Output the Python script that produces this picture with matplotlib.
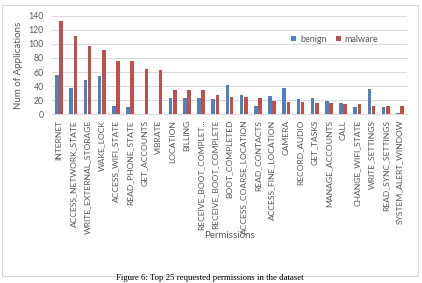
import matplotlib
matplotlib.use("Agg")
import matplotlib.pyplot as plt
from matplotlib.patches import Rectangle
import numpy as np

categories = ["INTERNET", "ACCESS_NETWORK_STATE", "WRITE_EXTERNAL_STORAGE", "WAKE_LOCK",
              "ACCESS_WIFI_STATE", "READ_PHONE_STATE", "GET_ACCOUNTS", "VIBRATE", "LOCATION",
              "BILLING", "RECEIVE_BOOT_COMPLET...", "RECEIVE_BOOT_COMPLETE", "BOOT_COMPLETED",
              "ACCESS_COARSE_LOCATION", "READ_CONTACTS", "ACCESS_FINE_LOCATION", "CAMERA",
              "RECORD_AUDIO", "GET_TASKS", "MANAGE_ACCOUNTS", "CALL", "CHANGE_WIFI_STATE",
              "WRITE_SETTINGS", "READ_SYNC_SETTINGS", "SYSTEM_ALERT_WINDOW"]
benign = [56, 37, 49, 54, 12, 10, 0, 0, 23, 23, 23, 22, 41, 28, 12, 26, 38, 22, 23, 19, 16, 11, 36, 10, 2]
malware = [133, 111, 97, 92, 76, 76, 65, 63, 34, 34, 34, 28, 25, 24, 23, 19, 18, 17, 16, 16, 15, 14, 12, 12, 12]
yticks = [0, 20, 40, 60, 80, 100, 120, 140]

plt.rcParams['font.family'] = ['Lato', 'DejaVu Sans']

fig = plt.figure(figsize=(4.22, 2.83), dpi=100)
W, H = 422, 283
ax = fig.add_axes([52 / W, 1 - 114.3 / H, (407 - 52) / W, (114.3 - 15.7) / H])

x = np.arange(len(categories))
w = 0.25
ax.bar(x - 0.15, benign, w, color="#4F81BD", label="benign")
ax.bar(x + 0.15, malware, w, color="#C0504D", label="malware")

ax.set_xlim(-0.5, len(categories) - 0.5)
ax.set_ylim(0, 140)
ax.set_yticks(yticks)
ax.set_xticks(x)
ax.set_xticklabels(categories, rotation=90, fontsize=6.1, color="#595959")
ax.tick_params(axis='y', labelsize=6.3, colors="#595959", length=0, pad=6)
ax.tick_params(axis='x', length=0, pad=4)
ax.grid(axis='y', color="#D9D9D9", linewidth=0.7)
ax.set_axisbelow(True)
for s in ["top", "right", "left"]:
    ax.spines[s].set_visible(False)
ax.spines["bottom"].set_color("#D9D9D9")
ax.spines["bottom"].set_linewidth(0.7)

ax.set_ylabel("Num of Applications", fontsize=7, color="#595959", labelpad=4)
fig.text(229.5 / W, 1 - 236 / H, "Permissions", fontsize=7, color="#595959",
         ha="center", va="center")

leg = ax.legend(loc="upper left", bbox_to_anchor=(0.65, 0.89), ncol=2, frameon=False,
                fontsize=6.5, handlelength=0.6, handleheight=0.6, handletextpad=0.4,
                columnspacing=1.0, labelcolor="#595959")

fig.patches.append(Rectangle((2 / W, 1 - 276 / H), 416 / W, 271 / H, transform=fig.transFigure,
                             fill=False, edgecolor="#D9D9D9", linewidth=0.8))

fig.text(210 / W, 1 - 278.5 / H, "Figure 6: Top 25 requested permissions in the dataset",
         fontsize=6.3, family=["Liberation Serif", "DejaVu Serif"], ha="center", va="center")

fig.savefig("out.png", dpi=100)
